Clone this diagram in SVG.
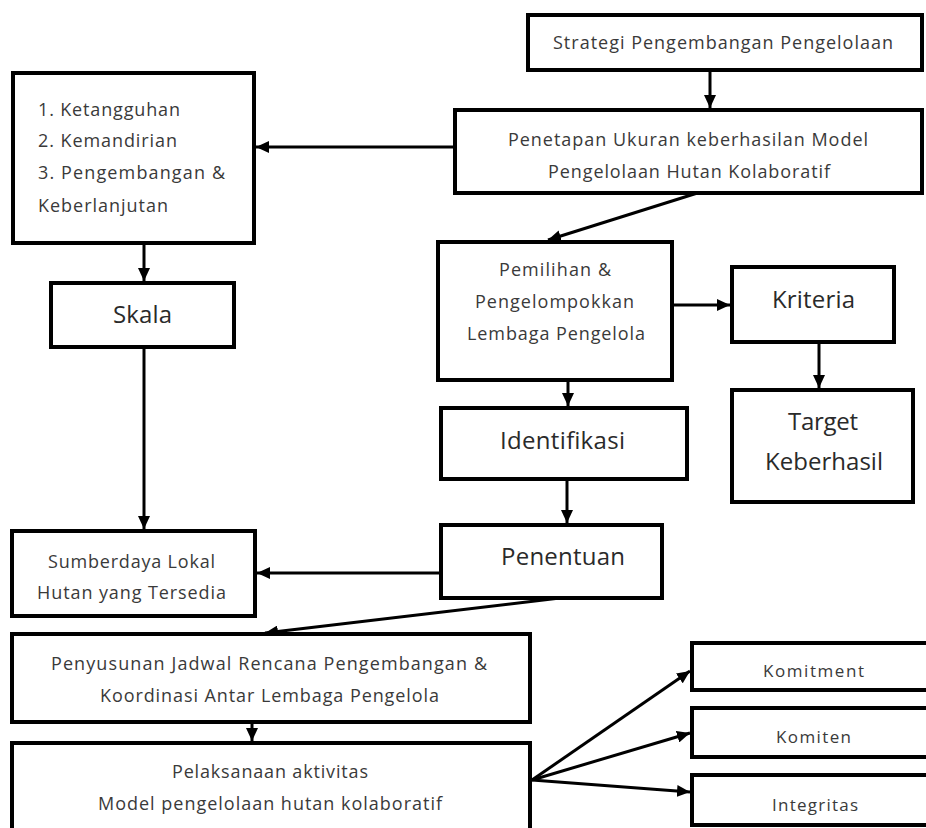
<svg xmlns="http://www.w3.org/2000/svg" width="926" height="828" viewBox="0 0 926 828">
<defs>
<marker id="ah" markerUnits="userSpaceOnUse" markerWidth="14" markerHeight="12" refX="13" refY="6" orient="auto">
<path d="M0,0 L13,6 L0,12 z" fill="#000"/>
</marker>
<style>
.box{fill:#fff;stroke:#000;stroke-width:4}
.t{font-family:"Open Sans","Noto Sans",sans-serif;fill:#3a3a3a;font-size:18px}
.s{font-size:17px}
.l{font-size:24px;fill:#2a2a2a}
.c{stroke:#000;stroke-width:3;fill:none;marker-end:url(#ah)}
</style>
</defs>
<rect width="926" height="828" fill="#fff"/>
<g id="connectors">
<line class="c" x1="710" y1="70" x2="710" y2="108"/>
<line class="c" x1="455" y1="147" x2="256" y2="147"/>
<line class="c" x1="144" y1="243" x2="144" y2="281"/>
<line class="c" x1="707" y1="190" x2="548" y2="240"/>
<line class="c" x1="672" y1="305" x2="730" y2="305"/>
<line class="c" x1="819" y1="342" x2="819" y2="388"/>
<line class="c" x1="568" y1="370" x2="568" y2="406"/>
<line class="c" x1="144" y1="347" x2="144" y2="529"/>
<line class="c" x1="567" y1="479" x2="567" y2="523"/>
<line class="c" x1="441" y1="573" x2="257" y2="573"/>
<line class="c" x1="560" y1="598" x2="265" y2="633"/>
<line class="c" x1="252" y1="712" x2="252" y2="741"/>
<line class="c" x1="532" y1="780" x2="690" y2="671"/>
<line class="c" x1="532" y1="780" x2="690" y2="733"/>
<line class="c" x1="532" y1="780" x2="690" y2="792"/>
</g>
<g id="strategi">
<rect class="box" x="528" y="15" width="394" height="55"/>
<text class="t" x="553" y="49" textLength="340">Strategi Pengembangan Pengelolaan</text>
</g>
<g id="penetapan">
<rect class="box" x="455" y="110" width="467" height="83"/>
<text class="t" x="508" y="146" textLength="360">Penetapan Ukuran keberhasilan Model</text>
<text class="t" x="548" y="178" textLength="282">Pengelolaan Hutan Kolaboratif</text>
</g>
<g id="ukuran">
<rect class="box" x="13" y="73" width="241" height="170"/>
<text class="t" x="38" y="116" textLength="142">1. Ketangguhan</text>
<text class="t" x="38" y="147" textLength="139">2. Kemandirian</text>
<text class="t" x="38" y="179" textLength="187">3. Pengembangan &amp;</text>
<text class="t" x="38" y="212" textLength="130">Keberlanjutan</text>
</g>
<g id="skala">
<rect class="box" x="51" y="283" width="183" height="64"/>
<text class="t l" x="113" y="323" textLength="59">Skala</text>
</g>
<g id="pemilihan">
<rect class="box" x="438" y="242" width="234" height="138"/>
<text class="t" x="499" y="276" textLength="112">Pemilihan &amp;</text>
<text class="t" x="475" y="308" textLength="159">Pengelompokkan</text>
<text class="t" x="467" y="340" textLength="178">Lembaga Pengelola</text>
</g>
<g id="kriteria">
<rect class="box" x="732" y="267" width="162" height="75"/>
<text class="t l" x="772" y="308" textLength="83">Kriteria</text>
</g>
<g id="target">
<rect class="box" x="732" y="390" width="181" height="112"/>
<text class="t l" x="788" y="430" textLength="70">Target</text>
<text class="t l" x="765" y="470" textLength="118">Keberhasil</text>
</g>
<g id="identifikasi">
<rect class="box" x="441" y="408" width="246" height="71"/>
<text class="t l" x="500" y="449" textLength="125">Identifikasi</text>
</g>
<g id="sumberdaya">
<rect class="box" x="12" y="531" width="243" height="85"/>
<text class="t" x="48" y="568" textLength="167">Sumberdaya Lokal</text>
<text class="t" x="37" y="599" textLength="189">Hutan yang Tersedia</text>
</g>
<g id="penentuan">
<rect class="box" x="441" y="525" width="221" height="73"/>
<text class="t l" x="501" y="565" textLength="124">Penentuan</text>
</g>
<g id="penyusunan">
<rect class="box" x="12" y="634" width="518" height="88"/>
<text class="t" x="51" y="670" textLength="436">Penyusunan Jadwal Rencana Pengembangan &amp;</text>
<text class="t" x="100" y="702" textLength="339">Koordinasi Antar Lembaga Pengelola</text>
</g>
<g id="pelaksanaan">
<rect class="box" x="12" y="743" width="518" height="100"/>
<text class="t" x="172" y="778" textLength="196">Pelaksanaan aktivitas</text>
<text class="t" x="98" y="810" textLength="344">Model pengelolaan hutan kolaboratif</text>
</g>
<g id="komitment">
<rect class="box" x="692" y="643" width="240" height="47"/>
<text class="t s" x="763" y="677" textLength="101">Komitment</text>
</g>
<g id="komiten">
<rect class="box" x="692" y="708" width="240" height="49"/>
<text class="t s" x="776" y="743" textLength="75">Komiten</text>
</g>
<g id="integritas">
<rect class="box" x="692" y="775" width="240" height="50"/>
<text class="t s" x="772" y="811" textLength="86">Integritas</text>
</g>
</svg>
